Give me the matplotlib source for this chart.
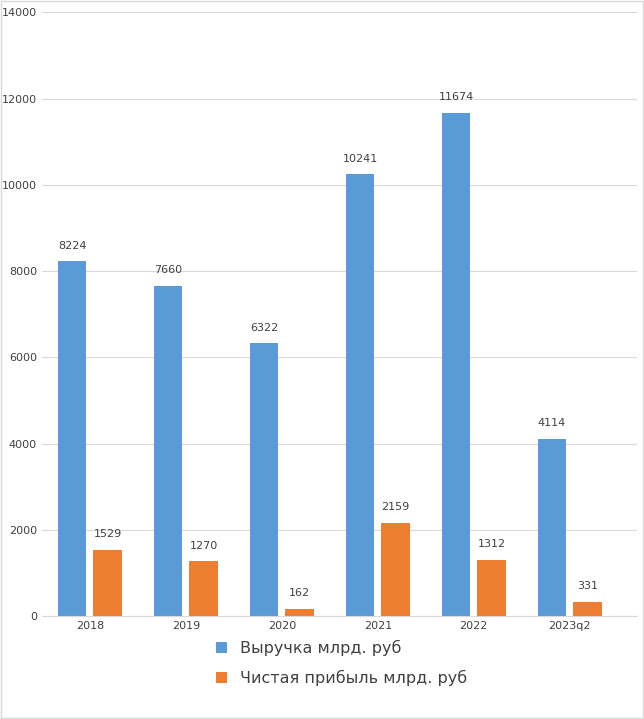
import matplotlib
matplotlib.use("Agg")
import matplotlib.pyplot as plt
import numpy as np
from matplotlib.patches import Rectangle

years = ["2018", "2019", "2020", "2021", "2022", "2023q2"]
revenue = [8224, 7660, 6322, 10241, 11674, 4114]
profit = [1529, 1270, 162, 2159, 1312, 331]
ticks = [0, 2000, 4000, 6000, 8000, 10000, 12000, 14000]

fig = plt.figure(figsize=(6.44, 7.19), dpi=100)
fig.patches.append(Rectangle((0.002, 0.002), 0.996, 0.996, transform=fig.transFigure,
                             fill=False, edgecolor="#d9d9d9", lw=1))
ax = fig.add_axes([0.065, 0.143, 0.924, 0.84])
x = np.arange(len(years))
w = 0.3
b1 = ax.bar(x - w/2 - 0.035, revenue, w, color="#5b9bd5")
b2 = ax.bar(x + w/2 + 0.035, profit, w, color="#ed7d31")
for bars, vals in ((b1, revenue), (b2, profit)):
    for r, v in zip(bars, vals):
        ax.text(r.get_x() + r.get_width()/2, v + 250, str(v), ha="center", va="bottom",
                fontsize=8, color="#404040")
ax.set_ylim(0, 14000)
ax.set_xlim(-0.5, len(years) - 0.3)
ax.set_yticks(ticks)
ax.set_xticks(x)
ax.set_xticklabels(years)
ax.tick_params(axis="both", length=0, labelsize=8, colors="#404040")
ax.grid(axis="y", color="#d9d9d9", lw=0.8)
ax.set_axisbelow(True)
for s in ["top", "right", "left"]:
    ax.spines[s].set_visible(False)
ax.spines["bottom"].set_color("#d9d9d9")
fig.legend([b1, b2], ["Выручка млрд. руб", "Чистая прибыль млрд. руб"],
           loc="center", bbox_to_anchor=(0.53, 0.078), ncol=1, frameon=False,
           fontsize=11.5, handlelength=0.7, handleheight=0.7, labelcolor="#404040",
           labelspacing=0.9)
fig.savefig("out.png", dpi=100)
